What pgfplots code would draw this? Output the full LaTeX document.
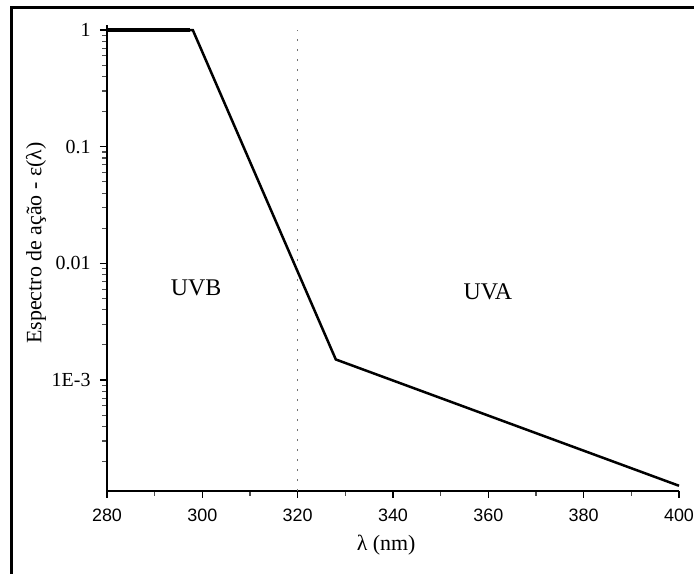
\documentclass[border=0pt]{standalone}
\usepackage{fontspec}
\setmainfont{Liberation Serif}
\newfontfamily\tickfont{Liberation Sans}
\usepackage{pgfplots}
\pgfplotsset{compat=1.18}

\begin{document}
\begin{tikzpicture}
\useasboundingbox (0bp,0bp) rectangle (694bp,-574bp);
% frame
\draw[line width=3bp] (11bp,-574bp) -- (11bp,-7bp) -- (694bp,-7bp);
\begin{axis}[
  at={(107bp,-491bp)}, anchor=south west,
  scale only axis, width=572bp, height=466bp,
  xmin=280, xmax=400, ymode=log, ymin=1.118e-4, ymax=1.104,
  axis x line=bottom, axis y line=left,
  axis line style={-, line width=1.4bp},
  tick align=outside,
  major tick length=7bp, minor tick length=5bp,
  tick style={black, line width=1.2bp},
  minor tick style={black!70, line width=1.1bp},
  xtick={280,300,...,400}, minor x tick num=1,
  ytick={1,0.1,0.01,0.001}, yticklabels={1,0.1,0.01,1E-3},
  minor ytick={2e-4,3e-4,4e-4,5e-4,6e-4,7e-4,8e-4,9e-4,
               2e-3,3e-3,4e-3,5e-3,6e-3,7e-3,8e-3,9e-3,
               2e-2,3e-2,4e-2,5e-2,6e-2,7e-2,8e-2,9e-2,
               0.2,0.3,0.4,0.5,0.6,0.7,0.8,0.9},
  /pgf/number format/assume math mode=true,
  /pgf/number format/1000 sep={},
  xticklabel style={font=\tickfont\fontsize{18}{20}\selectfont, yshift=-7bp},
  yticklabel style={font=\fontsize{20}{22}\selectfont, xshift=-6bp},
  xlabel={λ (nm)}, ylabel={Espectro de ação - ε(λ)},
  xlabel style={font=\fontsize{22}{24}\selectfont, at={(axis description cs:0.488,-0.116)}, anchor=center},
  ylabel style={font=\fontsize{22}{24}\selectfont, at={(axis description cs:-0.124,0.532)}, anchor=center},
  clip=false,
]
% UVB / UVA boundary
\addplot[black!55, line width=1.5bp, dash pattern=on 1.8bp off 8.2bp] coordinates {(320,1.118e-4) (320,1)};
% action spectrum
\addplot[black, line width=2.5bp] coordinates {(280,1) (298,1) (328,1.5e-3) (400,1.24e-4)};
\addplot[black, line width=3.5bp] coordinates {(280,1) (297.5,1)};
\node[font=\fontsize{24}{26}\selectfont] at (axis cs:298.7,6.15e-3) {UVB};
\node[font=\fontsize{24}{26}\selectfont] at (axis cs:359.9,5.67e-3) {UVA};
\end{axis}
\end{tikzpicture}
\end{document}
